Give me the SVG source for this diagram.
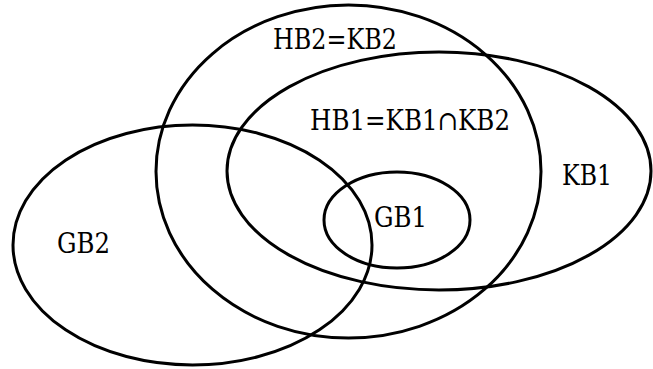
<svg xmlns="http://www.w3.org/2000/svg" width="653" height="369" viewBox="0 0 653 369">
<style>
.e{fill:none;stroke:#000;stroke-width:3}
.t{font-family:"DejaVu Serif","Liberation Serif",serif;font-size:27px;fill:#000}
</style>
<rect width="653" height="369" fill="#fff"/>
<g id="HB2">
<ellipse class="e" cx="348.5" cy="171.5" rx="192.5" ry="166.5"/>
<text class="t" x="273" y="49" textLength="124" lengthAdjust="spacingAndGlyphs">HB2=KB2</text>
</g>
<g id="KB1">
<ellipse class="e" cx="439" cy="171" rx="212" ry="119"/>
<text class="t" x="562" y="185" textLength="50" lengthAdjust="spacingAndGlyphs">KB1</text>
</g>
<g id="GB2">
<ellipse class="e" cx="192.5" cy="245" rx="179.5" ry="120"/>
<text class="t" x="57" y="253" textLength="53" lengthAdjust="spacingAndGlyphs">GB2</text>
</g>
<g id="GB1">
<ellipse class="e" cx="397" cy="220" rx="73" ry="48"/>
<text class="t" x="374" y="227" textLength="53" lengthAdjust="spacingAndGlyphs">GB1</text>
</g>
<g id="HB1">
<text class="t" x="310" y="130" textLength="200" lengthAdjust="spacingAndGlyphs">HB1=KB1∩KB2</text>
</g>
<g id="connectors"/>
</svg>
